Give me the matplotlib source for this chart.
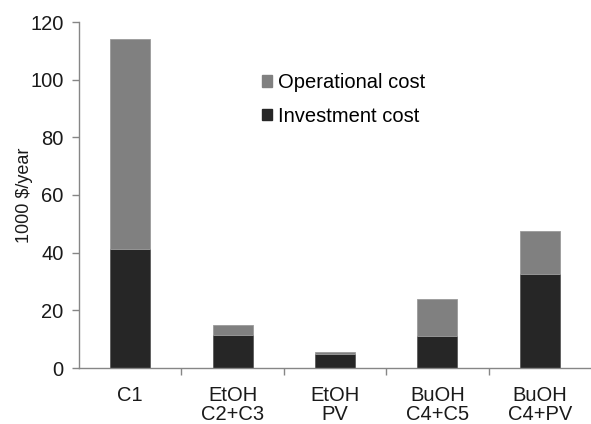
import matplotlib
matplotlib.use("Agg")
import matplotlib.pyplot as plt
from matplotlib.patches import Patch
import numpy as np

categories = ["C1", "EtOH\nC2+C3", "EtOH\nPV", "BuOH\nC4+C5", "BuOH\nC4+PV"]
investment = [41.2, 11.6, 4.9, 11.2, 32.7]
total = [114.0, 14.8, 5.7, 24.1, 47.4]
operational = [t - i for t, i in zip(total, investment)]
yticks = [0, 20, 40, 60, 80, 100, 120]

plt.rcParams['font.family'] = ['Liberation Sans', 'DejaVu Sans']

fig = plt.figure(figsize=(5.91, 4.24), dpi=100)
ax = fig.add_axes([79/591, 1-368/424, 1-79/591, (368-22)/424])

x = np.arange(len(categories))
w = 0.39
inv_c = "#262626"
op_c = "#808080"
ax.bar(x, investment, w, color=inv_c, edgecolor="#5a5a5a", linewidth=0.6, zorder=2)
ax.bar(x, operational, w, bottom=investment, color=op_c, edgecolor="#9a9a9a", linewidth=0.6, zorder=2)

ax.set_xlim(-0.5, len(categories) - 0.5)
ax.set_ylim(0, 120)
ax.set_yticks(yticks)
ax.set_yticklabels([str(v) for v in yticks], fontsize=14.5, color="#1a1a1a")
ax.set_xticks(x)
ax.set_xticklabels(categories, fontsize=14.5, color="#1a1a1a", linespacing=1.0)
ax.set_xticks(np.arange(0.5, len(categories) - 1, 1.0), minor=True)
ax.tick_params(axis="x", which="major", length=0, pad=13)
ax.tick_params(axis="x", which="minor", length=5, direction="out", color="#868686", width=1)
ax.tick_params(axis="y", length=5, direction="out", color="#868686", width=1, pad=6)

for s in ["top", "right"]:
    ax.spines[s].set_visible(False)
for s in ["left", "bottom"]:
    ax.spines[s].set_color("#868686")
    ax.spines[s].set_linewidth(1)

ax.set_ylabel("1000 $/year", fontsize=13, color="#1a1a1a", labelpad=-2)

handles = [Patch(facecolor=op_c, edgecolor=op_c, label="Operational cost"),
           Patch(facecolor=inv_c, edgecolor=inv_c, label="Investment cost")]
ax.legend(handles=handles, loc="upper left", bbox_to_anchor=(0.342, 0.875),
          frameon=False, fontsize=14.5, handlelength=0.5, handleheight=0.5,
          handletextpad=0.3, labelspacing=0.72, borderaxespad=0)

fig.savefig("out.png", dpi=100)
